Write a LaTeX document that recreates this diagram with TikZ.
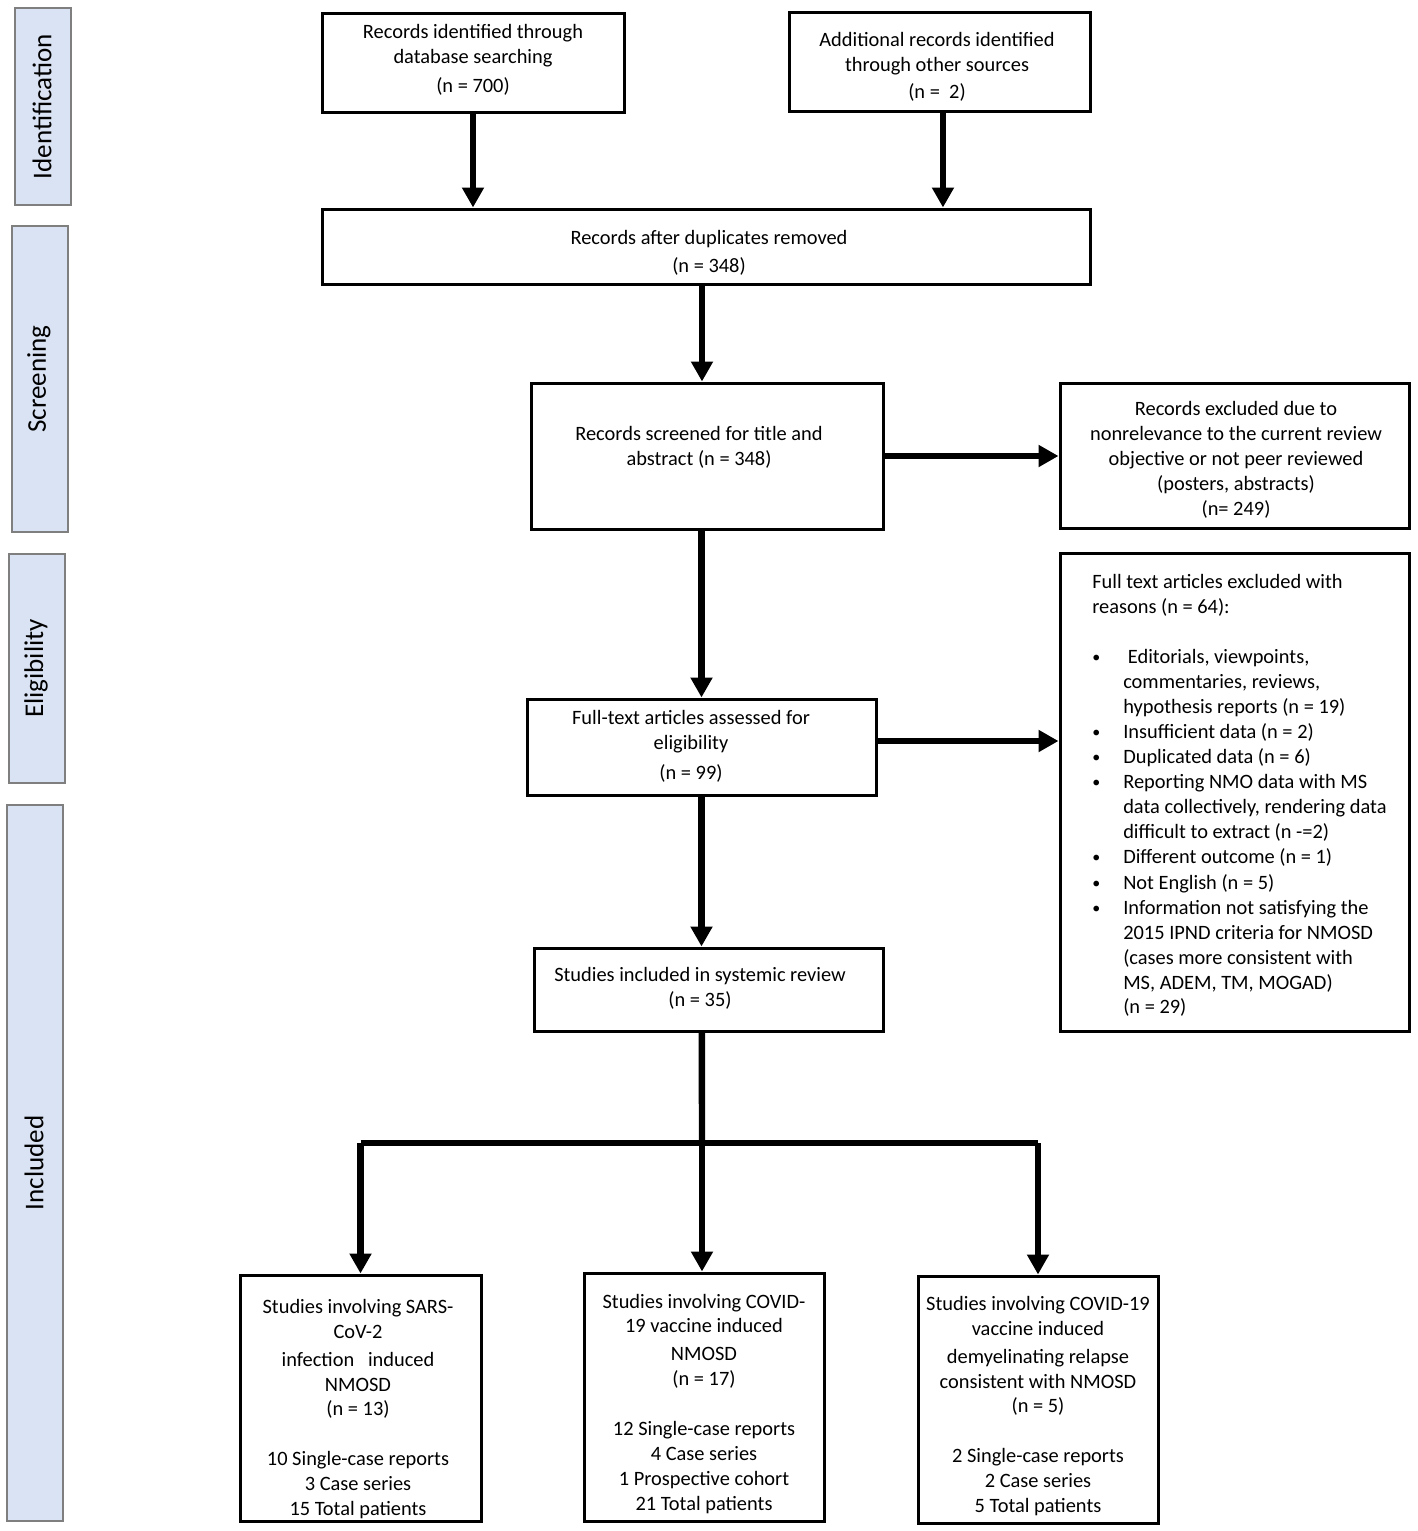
\documentclass[tikz,border=0pt]{standalone}
\usepackage{fontspec}
\setmainfont{Carlito}
\usetikzlibrary{arrows.meta}
\definecolor{sidefill}{HTML}{DAE3F3}
\definecolor{sidedraw}{HTML}{7F7F7F}
\newcommand\mainfs{\fontsize{15.3pt}{18.7pt}\selectfont}
\newcommand\sidefs{\fontsize{20.3pt}{24pt}\selectfont}
\newcommand\bul{\makebox[23.25pt][l]{\raisebox{0.5pt}{\fontsize{12pt}{12pt}\selectfont •}}}
\begin{document}
\begin{tikzpicture}[x=0.75pt,y=-0.75pt,
  box/.style={draw=black,line width=2.25pt,fill=white,inner sep=0pt},
  side/.style={draw=sidedraw,line width=1.5pt,fill=sidefill,inner sep=0pt,minimum width=42pt},
  sidetxt/.style={rotate=90,font=\sidefs,inner sep=0pt},
  txt/.style={font=\mainfs,align=center,inner sep=0pt,yshift=-2pt},
  arr/.style={line width=4.8pt,-{Triangle[width=15.75pt,length=15pt]}},
  trunk/.style={line width=4.8pt,line join=miter}]
\useasboundingbox (0,0) rectangle (1417,1531);
\fill[white] (0,0) rectangle (1417,1531);
% side bars
\node[side,minimum height=147.75pt] (sIdent) at (43,106.5) {};
\node[sidetxt] (lIdent) at (42,106.5) {Identification};
\node[side,minimum height=229.5pt] (sScreen) at (40,379) {};
\node[sidetxt] (lScreen) at (39,379) {Screening};
\node[side,minimum height=171.75pt] (sElig) at (37,668.5) {};
\node[sidetxt] (lElig) at (36,668.5) {Eligibility};
\node[side,minimum height=537pt] (sIncl) at (35,1163) {};
\node[sidetxt] (lIncl) at (34,1163) {Included};
% boxes
\node[box,minimum width=226.5pt,minimum height=74.25pt] (A) at (473,62.5) {};
\node[box,minimum width=225.75pt,minimum height=74.25pt] (B) at (939.5,61.5) {};
\node[box,minimum width=576pt,minimum height=56.25pt] (C) at (706,246.5) {};
\node[box,minimum width=264pt,minimum height=109.5pt] (D) at (707,456) {};
\node[box,minimum width=261.75pt,minimum height=108.75pt] (E) at (1234.5,455.5) {};
\node[box,minimum width=261.75pt,minimum height=72pt] (F) at (701.5,747) {};
\node[box,minimum width=261.75pt,minimum height=358.5pt] (G) at (1234.5,792) {};
\node[box,minimum width=261.75pt,minimum height=62.25pt] (H) at (708.5,989.5) {};
\node[box,minimum width=180.75pt,minimum height=184.5pt] (I1) at (360.5,1398) {};
\node[box,minimum width=180pt,minimum height=186pt] (I2) at (704,1397) {};
\node[box,minimum width=180pt,minimum height=185.25pt] (I3) at (1038,1399.5) {};
% texts
\node[txt] (tA) at (473,57) {Records identified through\\database searching\\[3pt](n = 700)};
\node[txt] (tB) at (937,64) {Additional records identified\\through other sources\\[2pt](n =\ \ 2)};
\node[txt] (tC) at (709,250) {Records after duplicates removed\\[2pt](n = 348)};
\node[txt] (tD) at (699,444.5) {Records screened for title and\\abstract (n = 348)};
\node[txt] (tE) at (1236,457.5) {Records excluded due to\\nonrelevance to the current review\\objective or not peer reviewed\\(posters, abstracts)\\(n= 249)};
\node[txt] (tF) at (691,743.5) {Full-text articles assessed for\\eligibility\\[4pt](n = 99)};
\node[txt] (tH) at (700,986) {Studies included in systemic review\\(n = 35)};
\node[txt] (tI1) at (358,1406.5) {Studies involving SARS-\\CoV-2\\[2pt]infection\ \ \ induced\\NMOSD\\(n = 13)\\[18.7pt]10 Single-case reports\\3 Case series\\15 Total patients};
\node[txt] (tI2) at (704,1401) {Studies involving COVID-\\19 vaccine induced\\[2pt]NMOSD\\(n = 17)\\[18.7pt]12 Single-case reports\\4 Case series\\1 Prospective cohort\\21 Total patients};
\node[txt] (tI3) at (1038,1403.5) {Studies involving COVID-19\\vaccine induced\\[2pt]demyelinating relapse\\consistent with NMOSD\\(n = 5)\\[18.7pt]2 Single-case reports\\2 Case series\\5 Total patients};
\node[txt,align=left,anchor=west] (tG) at (1092,793) {Full text articles excluded with\\reasons (n = 64):\\[18.7pt]
\bul\ Editorials, viewpoints,\\
\hspace*{23.25pt}commentaries, reviews,\\
\hspace*{23.25pt}hypothesis reports (n = 19)\\
\bul Insufficient data (n = 2)\\
\bul Duplicated data (n = 6)\\
\bul Reporting NMO data with MS\\
\hspace*{23.25pt}data collectively, rendering data\\
\hspace*{23.25pt}difficult to extract (n -=2)\\
\bul Different outcome (n = 1)\\[1pt]
\bul Not English (n = 5)\\
\bul Information not satisfying the\\
\hspace*{23.25pt}2015 IPND criteria for NMOSD\\
\hspace*{23.25pt}(cases more consistent with\\
\hspace*{23.25pt}MS, ADEM, TM, MOGAD)\\
\hspace*{23.25pt}(n = 29)};
% connectors
\draw[arr] (A.south) -- (A.south |- C.north);
\draw[arr] ([xshift=2.6pt]B.south) -- ([xshift=2.6pt]B.south |- C.north);
\draw[arr] ([xshift=-3pt]C.south) -- ([xshift=-3pt]C.south |- D.north);
\draw[arr] (D.east) -- (D.east -| E.west);
\draw[arr] (D.south -| F.north) -- (F.north);
\draw[arr] ([yshift=4.5pt]F.east) -- ([yshift=4.5pt]F.east -| G.west);
\draw[arr] (F.south) -- (F.south |- H.north);
\coordinate (bar) at (702,1143);
\draw[trunk] ([xshift=-5pt]H.south) -- (bar);
\draw[trunk] (I1.north |- bar) -- (I3.north |- bar);
\draw[arr] (I1.north |- bar) -- (I1.north);
\draw[arr] (bar) -- (bar |- I2.north);
\draw[arr] (I3.north |- bar) -- (I3.north);
\end{tikzpicture}
\end{document}
